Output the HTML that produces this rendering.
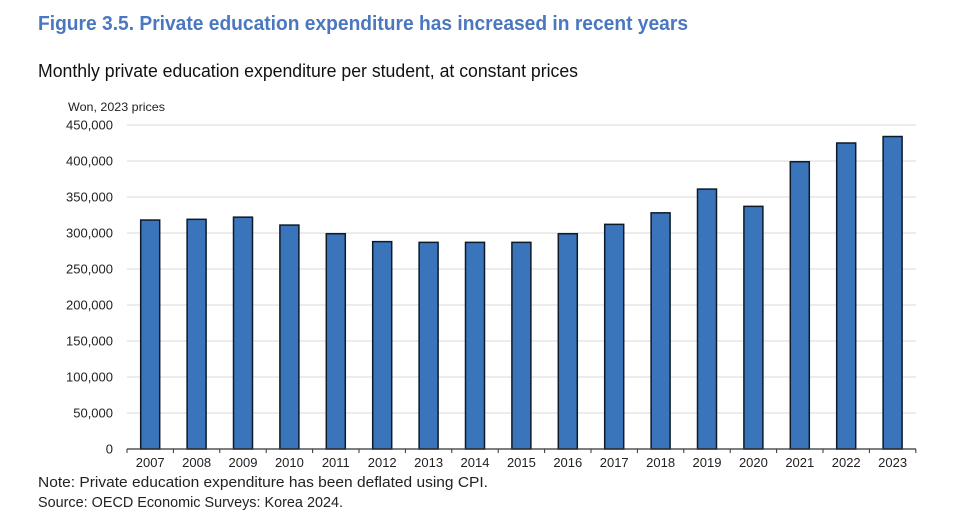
<!DOCTYPE html>
<html><head><meta charset="utf-8"><style>
body{margin:0;background:#fff;width:960px;height:515px;overflow:hidden;font-family:"Liberation Sans",sans-serif}
</style></head><body>
<svg width="960" height="515" xmlns="http://www.w3.org/2000/svg" font-family="Liberation Sans, sans-serif">
<text x="38" y="30" font-size="20" font-weight="bold" fill="#4a78c0" textLength="650" lengthAdjust="spacingAndGlyphs">Figure 3.5. Private education expenditure has increased in recent years</text>
<text x="38" y="77" font-size="18" fill="#111" textLength="540" lengthAdjust="spacingAndGlyphs">Monthly private education expenditure per student, at constant prices</text>
<text x="68" y="111" font-size="12" fill="#222" textLength="97" lengthAdjust="spacingAndGlyphs">Won, 2023 prices</text>
<g id="g"></g>
<text x="38" y="487" font-size="15" fill="#222" textLength="450" lengthAdjust="spacingAndGlyphs">Note: Private education expenditure has been deflated using CPI.</text>
<text x="38" y="507" font-size="15" fill="#222" textLength="305" lengthAdjust="spacingAndGlyphs">Source: OECD Economic Surveys: Korea 2024.</text>
</svg>
<script>
var g=document.getElementById('g'),h='';
for(var i=0;i<=9;i++){var y=449-i*36;
 if(i>0)h+='<line x1="127" x2="916" y1="'+y+'" y2="'+y+'" stroke="#d9d9d9" stroke-width="1"/>';
 h+='<text x="113" y="'+(y+4.5)+'" font-size="13" text-anchor="end" fill="#222">'+(i==0?'0':(i*50)+',000')+'</text>';}
var v=[318,319,322,311,299,288,287,287,287,299,312,328,361,337,399,425,434];
for(var k=0;k<17;k++){var c=127+46.4*k+23.2,t=449-v[k]*0.72;
 h+='<rect x="'+(c-9.5)+'" y="'+t+'" width="19" height="'+(449-t)+'" fill="#3a74ba" stroke="#0d1a2a" stroke-width="1.5"/>';
 h+='<text x="'+c+'" y="467" font-size="13" text-anchor="middle" fill="#222">'+(2007+k)+'</text>';}
for(var k=0;k<=17;k++){var x=127+46.4*k;h+='<line x1="'+x+'" x2="'+x+'" y1="449" y2="453" stroke="#333"/>';}
h+='<line x1="127" x2="916" y1="449" y2="449" stroke="#333" stroke-width="1.2"/>';
g.innerHTML=h;
</script>
</body></html>
